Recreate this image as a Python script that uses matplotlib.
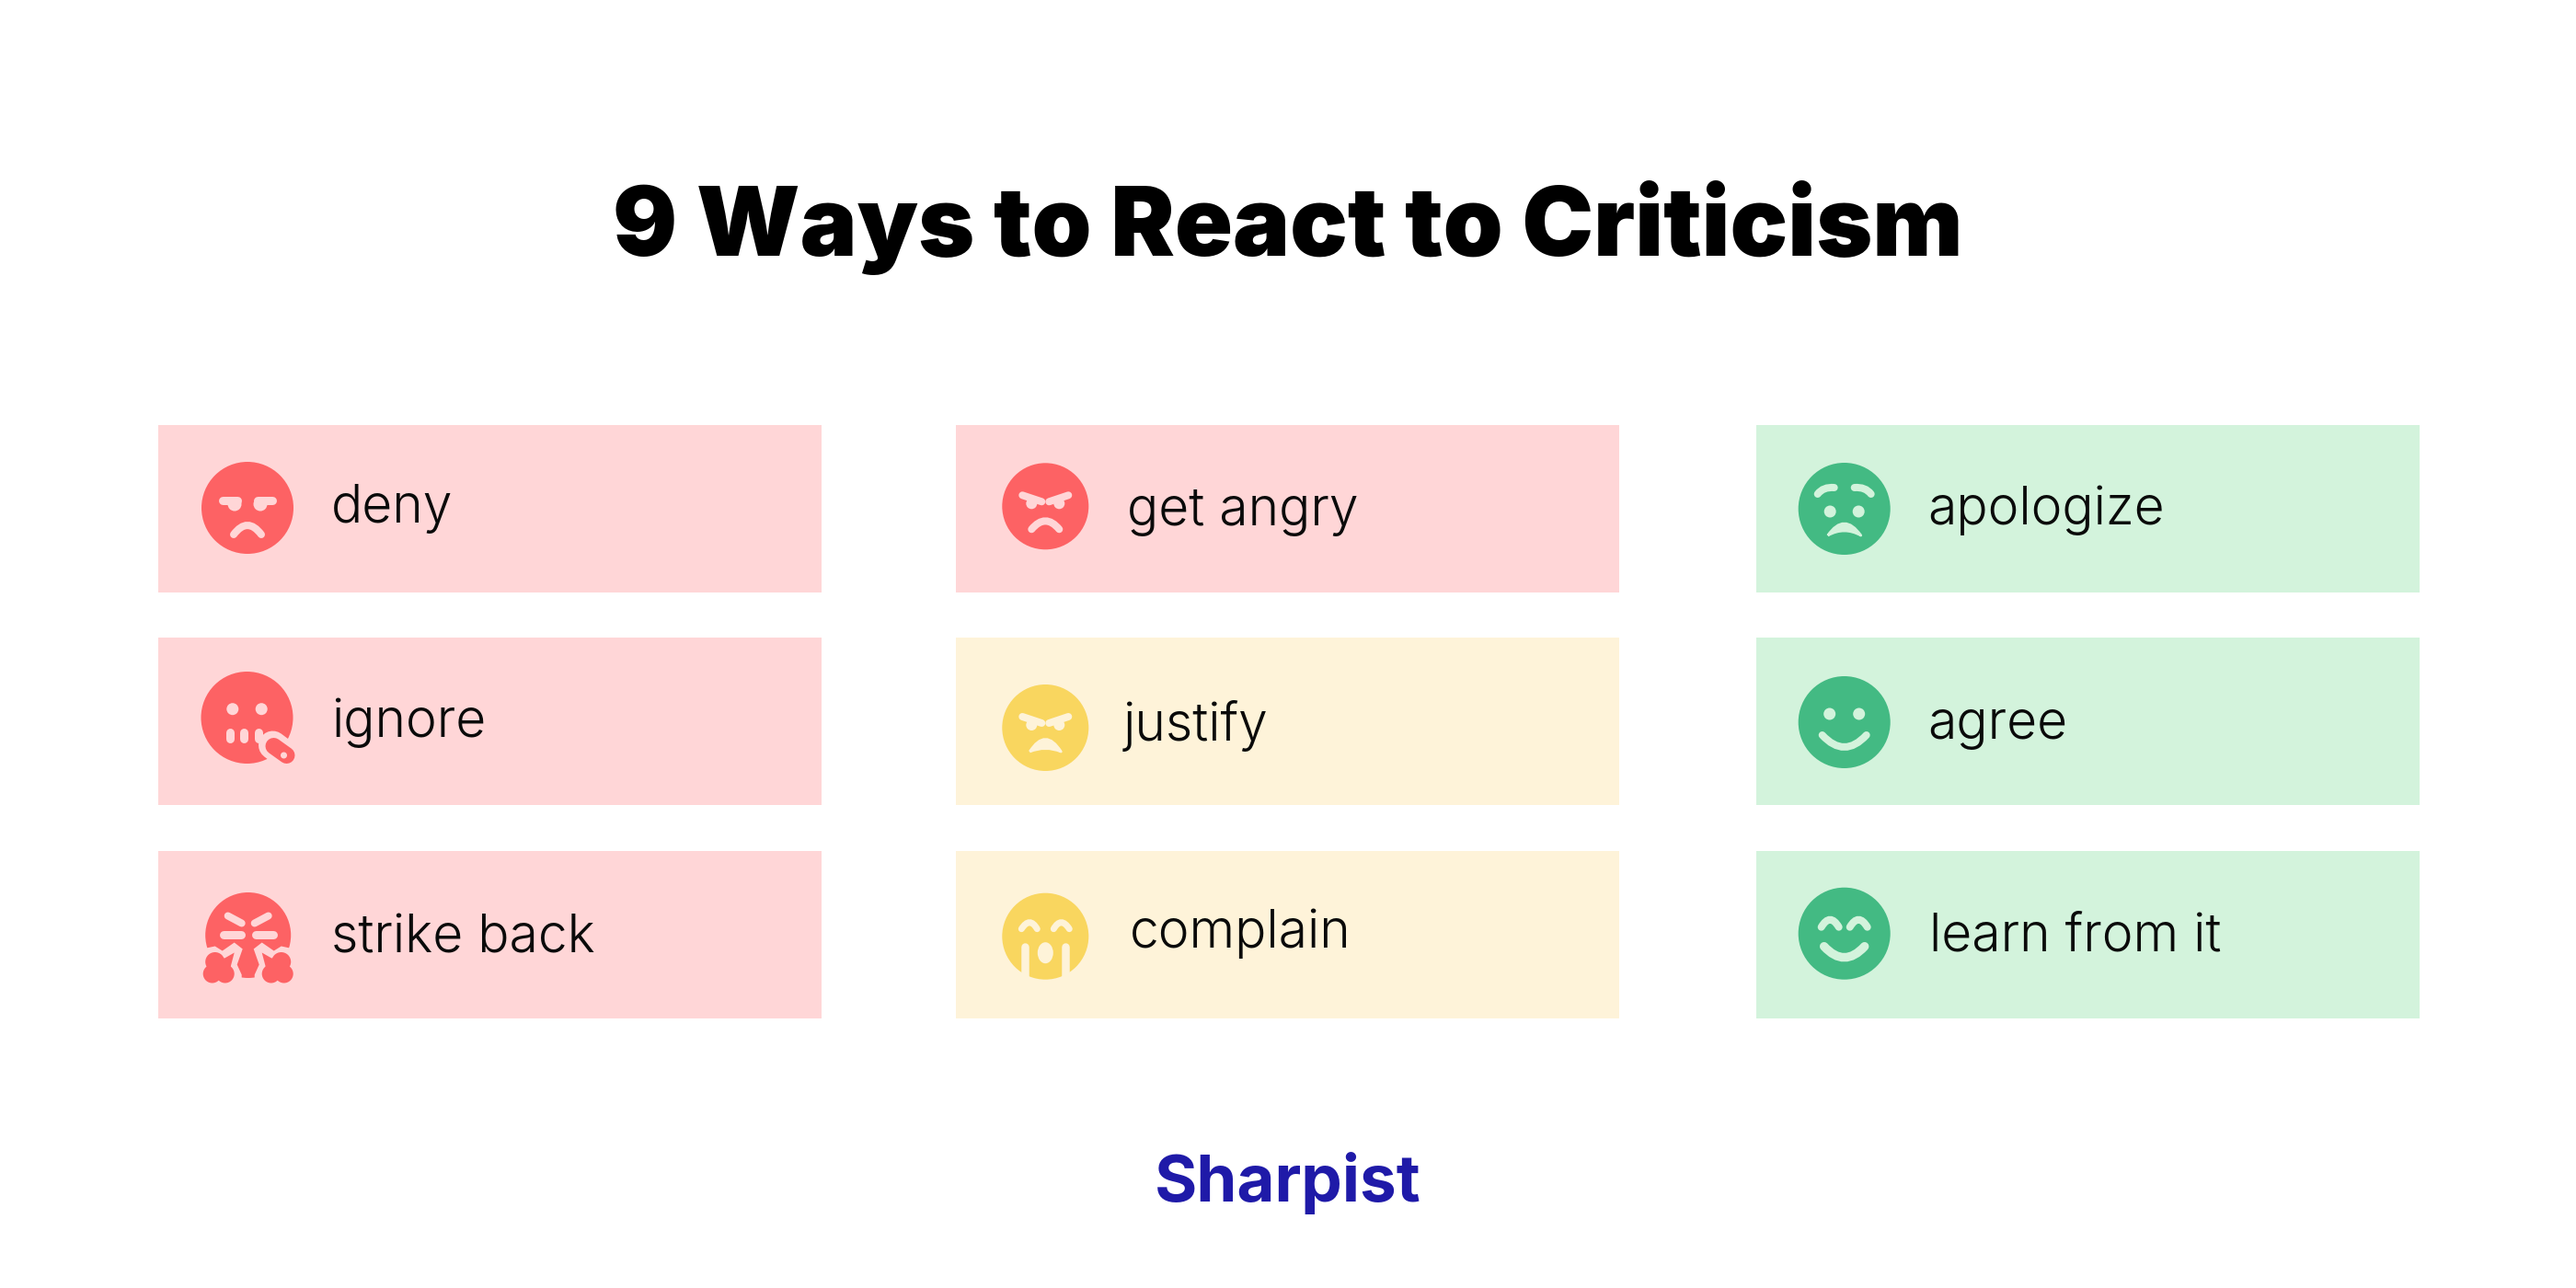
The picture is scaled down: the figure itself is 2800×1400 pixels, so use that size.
import matplotlib
matplotlib.use('Agg')
import matplotlib.pyplot as plt
from matplotlib.patches import Circle, Ellipse, PathPatch, Polygon, Rectangle
from matplotlib.path import Path

title = '9 Ways to React to Criticism'
brand = 'Sharpist'

labels = ['deny', 'ignore', 'strike back',
          'get angry', 'justify', 'complain',
          'apologize', 'agree', 'learn from it']
moods = ['red', 'red', 'red',
         'red', 'yellow', 'yellow',
         'green', 'green', 'green']
faces = ['deny', 'ignore', 'strike',
         'angry', 'justify', 'complain',
         'apologize', 'agree', 'learn']

# layout, in pixels of the 2800x1400 picture
col_left = [172, 1039, 1909]
row_top = [462, 693, 925]
box_w = 721
box_h = 182
face_x = [269, 268.5, 269.7, 1136.3, 1136.3, 1136.3, 2004.7, 2004.7, 2004.7]
face_y = [552, 780, 1016.5, 550.3, 791, 1017.7, 553, 785, 1014.7]
face_r = [50, 50, 46.5, 47, 47, 47, 50, 50, 50]
text_x = [360, 360, 360, 1225, 1221, 1228, 2095, 2095, 2097]
text_y = [568, 801, 1035, 571, 805, 1030, 570, 803, 1034]

back_col = {'red': '#FFD6D7', 'yellow': '#FEF3D9', 'green': '#D3F3DC'}
face_col = {'red': '#FD6264', 'yellow': '#F9D65F', 'green': '#43BA83'}

plt.rcParams['font.family'] = ['Inter', 'DejaVu Sans']

fig = plt.figure(figsize=(28, 14), dpi=100, facecolor='white')
ax = fig.add_axes([0, 0, 1, 1])
ax.set_xlim(0, 2800)
ax.set_ylim(1400, 0)
ax.axis('off')


def curve(x, y, p0, c, p1, col, lw):
    p = Path([(x + p0[0], y + p0[1]), (x + c[0], y + c[1]), (x + p1[0], y + p1[1])],
             [Path.MOVETO, Path.CURVE3, Path.CURVE3])
    ax.add_patch(PathPatch(p, fill=False, ec=col, lw=lw * 0.72, capstyle='round', zorder=3))


def line(x, y, p0, p1, col, lw, z=3):
    ax.plot([x + p0[0], x + p1[0]], [y + p0[1], y + p1[1]], color=col, lw=lw * 0.72,
            solid_capstyle='round', zorder=z)


def dot(x, y, dx, dy, r, col, z=3):
    ax.add_patch(Circle((x + dx, y + dy), r, fc=col, ec='none', zorder=z))


def crescent(x, y, w, top, tip, low, col):
    p = Path([(x - w, y + tip), (x, y + top), (x + w, y + tip), (x, y + low), (x - w, y + tip)],
             [Path.MOVETO, Path.CURVE3, Path.CURVE3, Path.CURVE3, Path.CURVE3])
    ax.add_patch(PathPatch(p, fc=col, ec=col, lw=2, joinstyle='round', zorder=3))


def draw_face(kind, x, y, back, col):
    if kind == 'deny':
        for s in (-1, 1):
            line(x, y, (s * 27, -8), (s * 11, -8), back, 9)
            dot(x, y, s * 14, -4, 7.5, back)
        curve(x, y, (-15, 29), (0, 9), (15, 29), back, 8)
    elif kind == 'ignore':
        for s in (-1, 1):
            dot(x, y, s * 15.7, -9.3, 6.5, back)
        for dx in (-19, -3.3, 12.3):
            line(x, y, (dx, 16), (dx, 23), back, 9)
        line(x, y, (28, 30), (44, 42), back, 31, z=4)
        line(x, y, (29, 31), (43, 41), col, 18, z=5)
        dot(x, y, 40, 41, 3.5, back, z=6)
    elif kind == 'strike':
        for s in (-1, 1):
            line(x, y, (s * 22, -21), (s * 7, -13), back, 8)
            line(x, y, (s * 27, -1), (s * 8, -1), back, 9)
            ax.add_patch(Polygon([(x + s * a, y + b) for a, b in
                                  [(50, 15), (36, 12), (28, 17), (15, 8), (6, 15),
                                   (12, 32), (7, 43), (7, 55), (55, 55)]],
                                 fc=back, ec='none', zorder=3))
            for a, b, r in [(36, 29, 10.5), (31, 36, 12), (39, 42, 10), (25, 42, 10)]:
                dot(x, y, s * a, b, r, col, z=4)
            ax.add_patch(Polygon([(x + s * a, y + b) for a, b in [(29, 27), (15, 19), (20, 38)]],
                                 fc=col, ec='none', zorder=4))
    elif kind == 'angry' or kind == 'justify':
        for s in (-1, 1):
            line(x, y, (s * 25, -12), (s * 4, -5), back, 8)
            dot(x, y, s * 15, -3, 6, back)
        if kind == 'angry':
            curve(x, y, (-15, 25), (0, 7), (15, 25), back, 8)
        else:
            crescent(x, y, 17, -1, 26, 19, back)
    elif kind == 'complain':
        for s in (-1, 1):
            curve(x, y, (s * 26, -8), (s * 17, -22), (s * 9, -8), back, 7)
            line(x, y, (s * 22, 11), (s * 22, 60), back, 8.5)
        ax.add_patch(Ellipse((x, y + 18), 17, 23, fc=back, ec='none', zorder=3))
    elif kind == 'apologize':
        for s in (-1, 1):
            curve(x, y, (s * 29, -16), (s * 23, -24), (s * 11, -23), back, 8)
            dot(x, y, s * 15.5, 3, 6.5, back)
        crescent(x, y, 18, 3, 29, 19, back)
    elif kind == 'agree':
        for s in (-1, 1):
            dot(x, y, s * 16, -9, 6.5, back)
        curve(x, y, (-24, 14), (0, 40), (24, 14), back, 8)
    elif kind == 'learn':
        for s in (-1, 1):
            curve(x, y, (s * 25, -7), (s * 15.5, -23), (s * 6, -7), back, 8)
        curve(x, y, (-22, 14), (0, 38), (22, 14), back, 9.5)


for i in range(9):
    back = back_col[moods[i]]
    col = face_col[moods[i]]
    ax.add_patch(Rectangle((col_left[i // 3], row_top[i % 3]), box_w, box_h, fc=back, ec='none', zorder=1))
    ax.add_patch(Circle((face_x[i], face_y[i]), face_r[i], fc=col, ec='none', zorder=2))
    draw_face(faces[i], face_x[i], face_y[i], back, col)
    ax.text(text_x[i], text_y[i], labels[i], fontsize=41, fontweight=300, color='#0A0A0A',
            ha='left', va='baseline', zorder=5)

ax.text(1400, 278, title, fontsize=75, fontweight=900, color='black', ha='center', va='baseline')
ax.text(1400, 1306, brand, fontsize=51, fontweight=700, color='#1F1AA8', ha='center', va='baseline')

fig.savefig('out.png', dpi=100)
